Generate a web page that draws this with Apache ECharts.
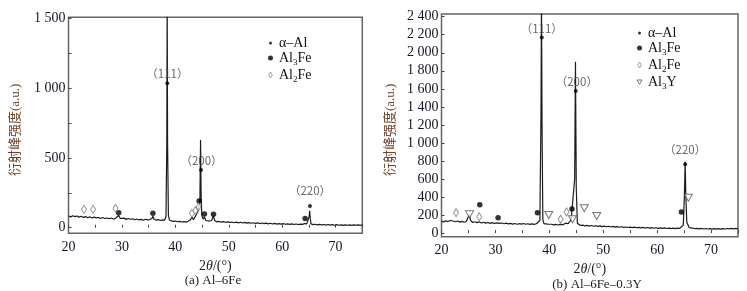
<!DOCTYPE html>
<html><head><meta charset="utf-8">
<script src="https://cdn.jsdelivr.net/npm/echarts@6/dist/echarts.min.js"></script>
<style>html,body{margin:0;padding:0;background:#fff}#c{width:747px;height:291px}</style>
</head><body><div id="c"></div>
<script>
// ---------- data (a) Al-6Fe ----------
const scanA = [[20,84],[20.4,78],[20.8,86],[21.2,80],[21.6,84],[22,76],[22.4,82],[22.8,74],[23.2,80],[23.6,72],[24,79],[24.4,70],[24.8,76],[25.2,71],[25.6,74],[26,66],[26.4,73],[26.8,66],[27.2,70],[27.6,64],[28,70],[28.4,62],[28.8,68],[29.1,72],[29.4,88],[29.7,66],[30,64],[30.4,69],[30.8,60],[31.2,66],[31.6,61],[32,64],[32.4,57],[32.8,63],[33.2,56],[33.6,60],[34,54],[34.4,61],[34.8,56],[35.2,58],[35.6,66],[35.8,82],[36,62],[36.4,54],[36.8,58],[37.2,52],[37.6,56],[38,54],[38.25,80],[38.4,600],[38.47,1650],[38.55,600],[38.7,90],[38.9,54],[39.2,50],[39.6,46],[40,48],[40.4,43],[40.8,46],[41.2,41],[41.6,44],[42,40],[42.4,46],[42.8,56],[43.1,74],[43.4,58],[43.7,72],[44,100],[44.25,118],[44.45,110],[44.6,200],[44.72,630],[44.82,250],[44.95,90],[45.2,62],[45.45,78],[45.7,52],[46,46],[46.4,48],[46.8,52],[47.1,84],[47.4,50],[47.8,42],[48.2,45],[48.6,40],[49,44],[49.4,39],[49.8,42],[50.2,38],[50.6,41],[51,36],[51.4,40],[51.8,35],[52.2,39],[52.6,34],[53,38],[53.4,33],[53.8,37],[54.2,32],[54.6,36],[55,31],[55.4,35],[55.8,30],[56.2,34],[56.6,29],[57,33],[57.4,28],[57.8,32],[58.2,27],[58.6,31],[59,26],[59.4,30],[59.8,26],[60.2,29],[60.6,25],[61,28],[61.4,24],[61.8,28],[62.2,23],[62.6,27],[63,23],[63.4,26],[63.8,24],[64.2,30],[64.4,42],[64.6,28],[64.9,30],[65.05,80],[65.15,122],[65.25,70],[65.4,28],[65.8,22],[66.2,25],[66.6,21],[67,24],[67.4,20],[67.8,23],[68.2,19],[68.6,23],[69,19],[69.4,22],[69.8,18],[70.2,22],[70.6,18],[71,21],[71.4,17],[71.8,21],[72.2,18],[72.6,21],[73,17],[73.4,20],[73.8,18],[74.2,21],[74.6,17],[75,20]];
const alphaAlA = [[38.5,1036],[44.8,414],[65.2,156]];
const al3FeA = [[29.4,108],[35.8,103],[44.45,192],[45.45,98],[47.15,96],[64.3,67]];
const al2FeA = [[22.9,132],[24.6,132],[28.8,139],[43.1,103],[43.75,122],[44.35,151]];
const peakTextA = [[38.5,1108,'（111）'],[44.9,479,'（200）'],[65.2,263,'（220）']];

// ---------- data (b) Al-6Fe-0.3Y ----------
const scanB = [[20,132],[20.4,124],[20.8,136],[21.2,128],[21.6,140],[21.9,162],[22.2,134],[22.6,126],[23,134],[23.4,122],[23.8,130],[24.2,120],[24.6,128],[24.9,150],[25.15,205],[25.4,140],[25.8,118],[26.2,126],[26.6,116],[27,124],[27.4,112],[27.8,120],[28.2,110],[28.6,118],[29,108],[29.4,116],[29.8,106],[30.2,114],[30.5,128],[30.8,108],[31.2,112],[31.6,104],[32,110],[32.4,102],[32.8,108],[33.2,100],[33.6,106],[34,98],[34.4,104],[34.8,100],[35.2,106],[35.6,98],[36,104],[36.4,96],[36.8,102],[37.2,96],[37.6,104],[37.9,112],[38.25,140],[38.45,1300],[38.55,2600],[38.65,1200],[38.8,150],[39,104],[39.3,96],[39.7,100],[40,94],[40.4,98],[40.8,92],[41.2,96],[41.6,90],[42,96],[42.3,104],[42.6,94],[43,110],[43.2,128],[43.5,104],[43.8,118],[44.05,148],[44.3,130],[44.7,600],[44.85,1900],[45,500],[45.2,110],[45.5,88],[45.8,84],[46.2,88],[46.6,80],[47,86],[47.4,78],[47.8,84],[48.2,76],[48.6,82],[49,74],[49.4,80],[49.8,72],[50.2,78],[50.6,70],[51,76],[51.4,68],[51.8,74],[52.2,66],[52.6,72],[53,65],[53.4,70],[53.8,63],[54.2,68],[54.6,62],[55,67],[55.4,60],[55.8,66],[56.2,59],[56.6,64],[57,58],[57.4,63],[57.8,56],[58.2,62],[58.6,55],[59,60],[59.4,54],[59.8,59],[60.2,53],[60.6,58],[61,52],[61.4,57],[61.8,51],[62.2,56],[62.6,50],[63,55],[63.4,50],[63.8,56],[64.2,52],[64.5,62],[64.85,90],[65.05,400],[65.2,790],[65.32,420],[65.5,120],[65.7,110],[65.95,60],[66.2,50],[66.6,55],[67,48],[67.4,53],[67.8,46],[68.2,52],[68.6,45],[69,51],[69.4,45],[69.8,50],[70.2,44],[70.6,50],[71,44],[71.4,49],[71.8,44],[72.2,50],[72.6,45],[73,51],[73.4,46],[73.8,52],[74.2,47],[74.6,52],[75,48]];
const alphaAlB = [[38.6,2170],[44.9,1575],[65.2,763]];
const al3FeB = [[27.1,315],[30.5,171],[37.8,226],[44.2,267],[64.5,234]];
const al2FeB = [[22.7,226],[27.0,182],[42.1,153],[43.2,234]];
const al3YB = [[25.2,208],[39.9,201],[44.3,153],[46.5,275],[48.8,190],[65.8,392]];
const peakTextB = [[38.6,2263,'（111）'],[45.1,1678,'（200）'],[65.2,929,'（220）']];

// ---------- ticks ----------
const xLabelVals = [20,30,40,50,60,70];
const xTickVals = [20,25,30,35,40,45,50,55,60,65,70,75];
const yLabelValsA = [0,500,1000,1500];
const yTickValsA = [0,250,500,750,1000,1250,1500];
const yLabelValsB = [0,200,400,600,800,1000,1200,1400,1600,1800,2000,2200,2400];

// ---------- build ----------
const SERIF = 'Liberation Serif, Noto Sans CJK SC, serif';
const TICKC = '#141428';
function fmtNum(v){ if (v >= 1000) { return Math.floor(v/1000) + ' ' + String(v%1000).padStart(3,'0'); } return String(v); }
function xAxisCfg(gi){
  return {type:'value', gridIndex:gi, min:20, max:75, interval:10,
    axisLine:{show:false}, splitLine:{show:false},
    axisTick:{show:true, inside:true, length:3, customValues:xTickVals, lineStyle:{color:'#444', width:1}},
    axisLabel:{customValues:xLabelVals, margin:7, fontFamily:SERIF, fontSize:14, color:TICKC},
    name:'{a|2}{b|θ}{a|/(°)}', nameLocation:'middle', nameGap:26,
    nameTextStyle:{rich:{a:{fontFamily:SERIF, fontSize:14, color:'#222'}, b:{fontFamily:SERIF, fontSize:14, fontStyle:'italic', color:'#222'}}}
  };
}
function yAxisCfg(gi, max, labs, ticks, gap){
  return {type:'value', gridIndex:gi, min:-40, max:max,
    axisLine:{show:false}, splitLine:{show:false},
    axisTick:{show:true, inside:true, length:3, customValues:ticks, lineStyle:{color:'#444', width:1}},
    axisLabel:{customValues:labs, margin:3, fontFamily:SERIF, fontSize:14, color:TICKC, formatter:fmtNum},
    name:'衍射峰强度(a.u.)', nameLocation:'middle', nameGap:gap,
    nameTextStyle:{fontFamily:SERIF, fontSize:13, color:'#6e4128', padding:[0,0,0,-9]}
  };
}
function line(data, gi){
  return {type:'line', xAxisIndex:gi, yAxisIndex:gi, data:data, showSymbol:false, symbol:'none',
    lineStyle:{color:'#1c1c1c', width:1.2}, clip:true, silent:true, z:2};
}
const mk = {
  'α–Al': {symbol:'circle', symbolSize:4, itemStyle:{color:'#000'}},
  'Al3Fe': {symbol:'circle', symbolSize:5.5, itemStyle:{color:'#000'}},
  'Al2Fe': {symbol:'diamond', symbolSize:[5,8], itemStyle:{color:'#fff', borderColor:'#777', borderWidth:1}},
  'Al3Y': {symbol:'triangle', symbolRotate:180, symbolSize:[8,7], itemStyle:{color:'#fff', borderColor:'#555', borderWidth:1}}
};
function sc(name, data, gi){
  return Object.assign({type:'scatter', name:name, xAxisIndex:gi, yAxisIndex:gi, data:data, z:5, silent:true}, mk[name]);
}
function peakLab(data, gi){
  return {type:'scatter', xAxisIndex:gi, yAxisIndex:gi, data:data, symbolSize:0, silent:true, z:6,
    label:{show:true, position:'inside', formatter:p=>p.value[2], fontFamily:'Noto Sans CJK SC, sans-serif', fontSize:11.5, color:'#444'}};
}
function legendFmt(n){
  if (n==='Al3Fe') return '{n|Al}{s|3}{n|Fe}';
  if (n==='Al2Fe') return '{n|Al}{s|2}{n|Fe}';
  if (n==='Al3Y') return '{n|Al}{s|3}{n|Y}';
  return '{n|'+n+'}';
}
// icon paths carry an empty 7x7 frame (two move-to points) so the drawn shape keeps its own small size
const legItems = {
  'α–Al': {name:'α–Al', icon:'path://M0,0M7,7M2,3.5A1.5,1.5,0,1,1,5,3.5A1.5,1.5,0,1,1,2,3.5Z', itemStyle:{color:'#000', borderWidth:0}},
  'Al3Fe': {name:'Al3Fe', icon:'path://M0,0M7,7M1,3.5A2.5,2.5,0,1,1,6,3.5A2.5,2.5,0,1,1,1,3.5Z', itemStyle:{color:'#000', borderWidth:0}},
  'Al2Fe': {name:'Al2Fe', icon:'path://M0,0M7,7M3.5,0.5L5.3,3.5L3.5,6.5L1.7,3.5Z', itemStyle:{color:'#fff', borderColor:'#888', borderWidth:1}},
  'Al3Y': {name:'Al3Y', icon:'path://M0,0M7,7M1,1.5L6,1.5L3.5,5.8Z', itemStyle:{color:'#fff', borderColor:'#555', borderWidth:1}}
};
function legend(names, left, top){
  return {data:names.map(n=>legItems[n]), orient:'vertical', left:left, top:top, itemWidth:7, itemHeight:7, itemGap:1,
    selectedMode:false, formatter:legendFmt, padding:0,
    textStyle:{color:'#111', fontFamily:SERIF, fontSize:14,
      rich:{n:{fontFamily:SERIF, fontSize:14, color:'#111', lineHeight:14}, s:{fontFamily:SERIF, fontSize:9, color:'#111', lineHeight:9, verticalAlign:'bottom', padding:[0,0,-2,0]}}}};
}

const chart = echarts.init(document.getElementById('c'), null, {renderer:'canvas', width:747, height:291});
chart.setOption({
  animation:false,
  backgroundColor:'#fff',
  grid:[
    {left:68.5, top:17.3, width:293.8, height:216, show:true, borderColor:'#666', borderWidth:1.5, backgroundColor:'rgba(0,0,0,0)'},
    {left:441.5, top:14, width:296.5, height:222.7, show:true, borderColor:'#666', borderWidth:1.5, backgroundColor:'rgba(0,0,0,0)'}
  ],
  xAxis:[xAxisCfg(0), xAxisCfg(1)],
  yAxis:[yAxisCfg(0, 1510, yLabelValsA, yTickValsA, 46), yAxisCfg(1, 2430, yLabelValsB, yLabelValsB, 44)],
  legend:[legend(['α–Al','Al3Fe','Al2Fe'], 266.5, 36), legend(['α–Al','Al3Fe','Al2Fe','Al3Y'], 635.5, 26)],
  series:[
    line(scanA,0), sc('α–Al',alphaAlA,0), sc('Al3Fe',al3FeA,0), sc('Al2Fe',al2FeA,0), peakLab(peakTextA,0),
    line(scanB,1), sc('α–Al',alphaAlB,1), sc('Al3Fe',al3FeB,1), sc('Al2Fe',al2FeB,1), sc('Al3Y',al3YB,1), peakLab(peakTextB,1)
  ],
  graphic:[
    {type:'text', x:213, y:281, style:{text:'(a) Al–6Fe', fontFamily:SERIF, fontSize:13, fill:'#222', align:'center', verticalAlign:'middle'}},
    {type:'text', x:597, y:285, style:{text:'(b) Al–6Fe–0.3Y', fontFamily:SERIF, fontSize:13, fill:'#222', align:'center', verticalAlign:'middle'}}
  ]
});
</script>
</body></html>
